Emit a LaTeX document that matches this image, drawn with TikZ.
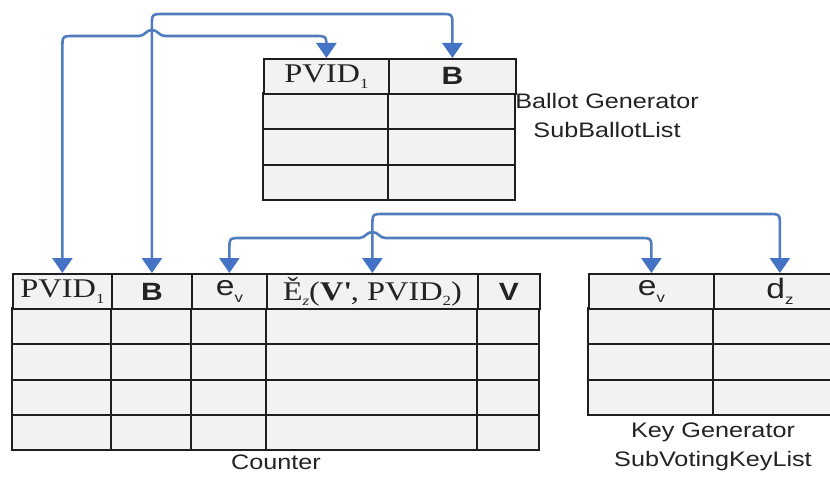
\documentclass[tikz,border=0pt]{standalone}
\usepackage{fontspec}
\setmainfont[FakeStretch=1.2]{Liberation Serif}
\setsansfont[FakeStretch=1.2]{Liberation Sans}
\usetikzlibrary{arrows.meta,calc}
\definecolor{linec}{RGB}{80,124,192}
\definecolor{tipc}{RGB}{68,114,196}
\definecolor{cellc}{RGB}{242,242,242}
\definecolor{gridc}{RGB}{30,30,30}
\definecolor{txtc}{RGB}{35,35,35}
\newcommand\lsub[1]{\raisebox{-0.22em}{\fontsize{14}{14}\selectfont #1}}
\tikzset{
  hcell/.style={draw=gridc, line width=1.8pt, fill=cellc, inner sep=0pt, anchor=north west, text=txtc, minimum height=35pt},
  bodyline/.style={draw=gridc, line width=1.8pt},
  conn/.style={draw=linec, line width=2.6pt,
    {Triangle[width=20pt,length=15pt,color=tipc]}-{Triangle[width=20pt,length=15pt,color=tipc]}},
  serifhead/.style={font=\fontsize{27}{30}\selectfont\rmfamily},
  sanshead/.style={font=\fontsize{25}{28}\selectfont\sffamily\bfseries},
  sanslow/.style={font=\fontsize{28}{30}\selectfont\sffamily},
  lbl/.style={font=\fontsize{21}{29}\selectfont\sffamily, align=center, text=txtc, inner sep=0pt},
}
\begin{document}
\begin{tikzpicture}[x=1pt, y=-1pt]
\useasboundingbox (0,0) rectangle (830,481);
\clip (0,0) rectangle (830,481);
\fill[white] (0,0) rectangle (830,481);

% ---- Ballot Generator table ----
\fill[cellc] (263,93) rectangle (515,200);
\draw[bodyline] (263,93) rectangle (515,200);
\draw[bodyline] (263,129) -- (515,129) (263,165) -- (515,165) (388,93) -- (388,200);
\node[hcell, serifhead, minimum width=125pt] (tPV) at (263,58) {PVID\lsub{1}};
\node[hcell, sanshead, minimum width=127pt] (tB) at (388,58) {B};

% ---- Counter table ----
\fill[cellc] (12,308) rectangle (539,450);
\draw[bodyline] (12,308) rectangle (539,450);
\draw[bodyline] (12,344) -- (539,344) (12,380) -- (539,380) (12,415) -- (539,415);
\draw[bodyline] (111,308) -- (111,450) (191,308) -- (191,450) (266,308) -- (266,450) (477,308) -- (477,450);
\node[hcell, serifhead, minimum width=99pt] (cPV) at (12,273) {PVID\lsub{1}};
\node[hcell, sanshead, minimum width=80pt] (cB) at (111,273) {B};
\node[hcell, sanslow, minimum width=75pt] (cEv) at (191,273) {e\lsub{\sffamily v}};
\node[hcell, serifhead, minimum width=211pt] (cEz) at (266,273) {Ě\lsub{\itshape z}(\textbf{V\textquotesingle}, PVID\lsub{2})};
\node[hcell, sanshead, minimum width=62pt] (cV) at (477,273) {V};

% ---- Key Generator table ----
\fill[cellc] (588,308) rectangle (845,415);
\draw[bodyline] (588,308) rectangle (845,415);
\draw[bodyline] (588,344) -- (845,344) (588,380) -- (845,380) (713,308) -- (713,415);
\node[hcell, sanslow, minimum width=125pt] (kEv) at (588,273) {e\lsub{\sffamily v}};
\node[hcell, sanslow, minimum width=132pt] (kDz) at (713,273) {d\lsub{\sffamily z}};

% ---- labels ----
\node[lbl] (ballotlbl) at (607,115) {Ballot Generator\\SubBallotList};
\node[lbl] (counterlbl) at (276,462) {Counter};
\node[lbl] (keylbl) at (713,447) {Key Generator\\SubVotingKeyList};

% ---- connectors ----
\coordinate (ya) at (0,36);
\coordinate (yb) at (0,14);
\coordinate (yc) at (0,238);
\coordinate (yd) at (0,214);

% B (ballot) <-> B (counter)
\coordinate (b1) at (tB.north |- yb);
\coordinate (b2) at (cB.north |- yb);
\draw[conn] (tB.north) -- ($(b1)+(0,12)$) .. controls (b1) .. ($(b1)+(-12,0)$)
   -- ($(b2)+(12,0)$) .. controls (b2) .. ($(b2)+(0,12)$) -- (cB.north);

% PVID1 (ballot) <-> PVID1 (counter), hopping over the B line
\coordinate (a1) at (tPV.north |- ya);
\coordinate (a2) at (cPV.north |- ya);
\coordinate (ah) at (cB.north |- ya);
\draw[conn] (tPV.north) -- ($(a1)+(0,12)$) .. controls (a1) .. ($(a1)+(-12,0)$)
   -- ($(ah)+(13,0)$)
   .. controls +(-6,0) and +(6,0) .. ($(ah)+(0,-6)$)
   .. controls +(-6,0) and +(6,0) .. ($(ah)+(-13,0)$)
   -- ($(a2)+(12,0)$) .. controls (a2) .. ($(a2)+(0,12)$) -- (cPV.north);

% Ez (counter) <-> dz (key)
\coordinate (d1) at (cEz.north |- yd);
\coordinate (d2) at (kDz.north |- yd);
\draw[conn] (cEz.north) -- ($(d1)+(0,12)$) .. controls (d1) .. ($(d1)+(12,0)$)
   -- ($(d2)+(-12,0)$) .. controls (d2) .. ($(d2)+(0,12)$) -- (kDz.north);

% ev (counter) <-> ev (key), hopping over the Ez line
\coordinate (c1) at (cEv.north |- yc);
\coordinate (c2) at (kEv.north |- yc);
\coordinate (ch) at (cEz.north |- yc);
\draw[conn] (cEv.north) -- ($(c1)+(0,12)$) .. controls (c1) .. ($(c1)+(12,0)$)
   -- ($(ch)+(-13,0)$)
   .. controls +(6,0) and +(-6,0) .. ($(ch)+(0,-6)$)
   .. controls +(6,0) and +(-6,0) .. ($(ch)+(13,0)$)
   -- ($(c2)+(-12,0)$) .. controls (c2) .. ($(c2)+(0,12)$) -- (kEv.north);
\end{tikzpicture}
\end{document}
